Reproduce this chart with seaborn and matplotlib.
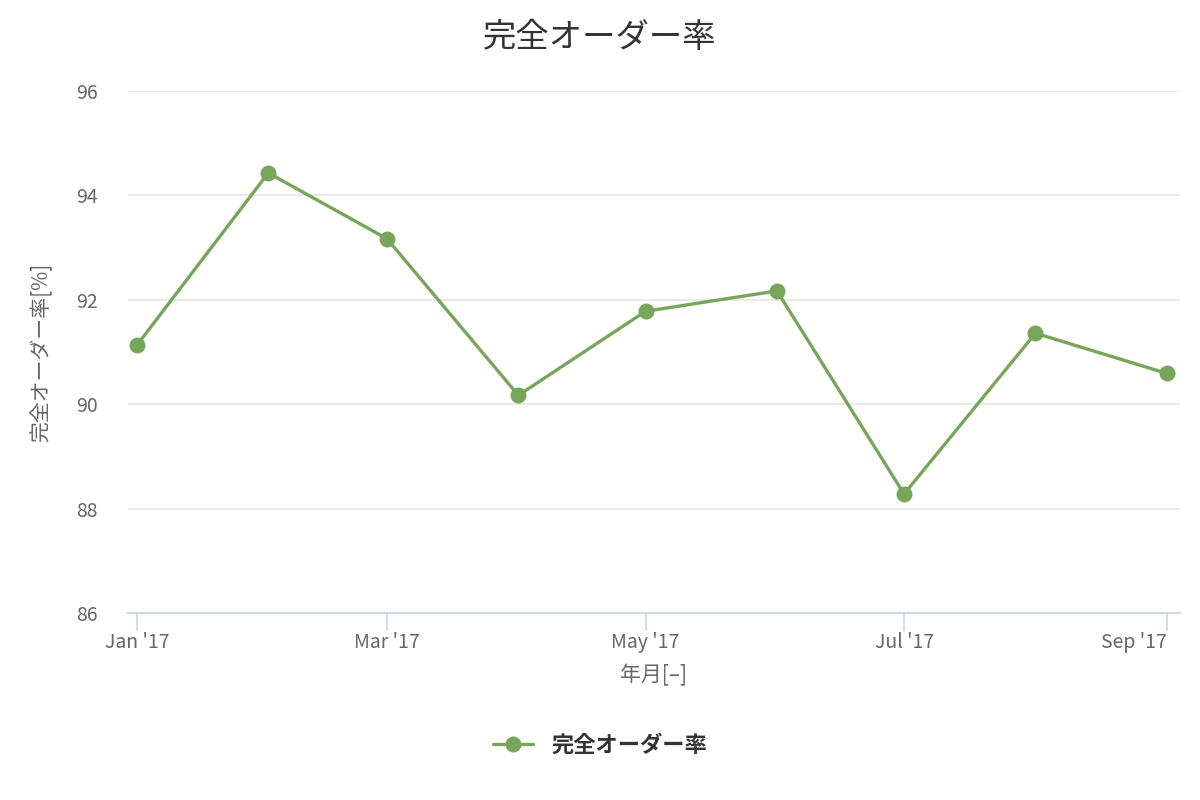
import matplotlib
matplotlib.use('Agg')
import matplotlib.pyplot as plt
import seaborn as sns
import pandas as pd

# data (monthly values, datetime axis)
months = ['2017-01-01', '2017-02-01', '2017-03-01', '2017-04-01', '2017-05-01',
          '2017-06-01', '2017-07-01', '2017-08-01', '2017-09-01']
rate = [91.13, 94.43, 93.17, 90.17, 91.78, 92.17, 88.28, 91.36, 90.59]
tick_labels = ["Jan '17", "Mar '17", "May '17", "Jul '17", "Sep '17"]
y_ticks = [86, 88, 90, 92, 94, 96]

series_name = '完全オーダー率'
green = '#77a65b'

dates = pd.to_datetime(months)
df = pd.DataFrame({'date': dates, 'rate': rate, 'series': series_name})

sns.set_theme(style='white')
plt.rcParams['font.family'] = ['Noto Sans CJK JP', 'DejaVu Sans']

fig = plt.figure(figsize=(12, 8), dpi=100)
ax = fig.add_axes([128 / 1200, 1 - 613 / 800, (1180 - 128) / 1200, (613 - 91) / 800])

sns.lineplot(data=df, x='date', y='rate', hue='series', palette=[green],
             marker='o', markersize=11.5, markeredgewidth=0, linewidth=2.4, ax=ax)

ax.set_ylim(86, 96)
ax.set_xlim(dates[0] - pd.Timedelta(days=2.1), dates[-1] + pd.Timedelta(days=3.1))
ax.set_yticks(y_ticks)
ax.set_yticklabels([str(t) for t in y_ticks])
ax.set_xticks(dates[::2])
ax.set_xticklabels(tick_labels)
# last label is pushed inside the chart, like the reference
ax.get_xticklabels()[-1].set_ha('right')

ax.grid(axis='y', color='#e6e6e6', linewidth=1.2)
ax.set_axisbelow(True)
for s in ['top', 'right', 'left']:
    ax.spines[s].set_visible(False)
ax.spines['bottom'].set_color('#ccd6eb')
ax.spines['bottom'].set_linewidth(1.5)

ax.tick_params(axis='x', bottom=True, colors='#ccd6eb', length=13, width=1.2,
               labelcolor='#666666', labelsize=14, pad=1)
ax.tick_params(axis='y', left=False, length=0, labelcolor='#666666', labelsize=14, pad=22)

ax.set_xlabel('年月[–]', color='#666666', fontsize=15, labelpad=8)
ax.set_ylabel('完全オーダー率[%]', color='#666666', fontsize=15)
ax.yaxis.set_label_coords(-0.072, 0.5)

fig.suptitle('完全オーダー率', x=0.5, y=1 - 38 / 800, va='center', fontsize=24, color='#333333')

leg = ax.legend(loc='center', bbox_to_anchor=(0.5, 1 - 745 / 800), bbox_transform=fig.transFigure,
                frameon=False, handlelength=1.8, prop={'weight': 'bold', 'size': 16})
for t in leg.get_texts():
    t.set_color('#333333')

fig.savefig('out.png', dpi=100)
